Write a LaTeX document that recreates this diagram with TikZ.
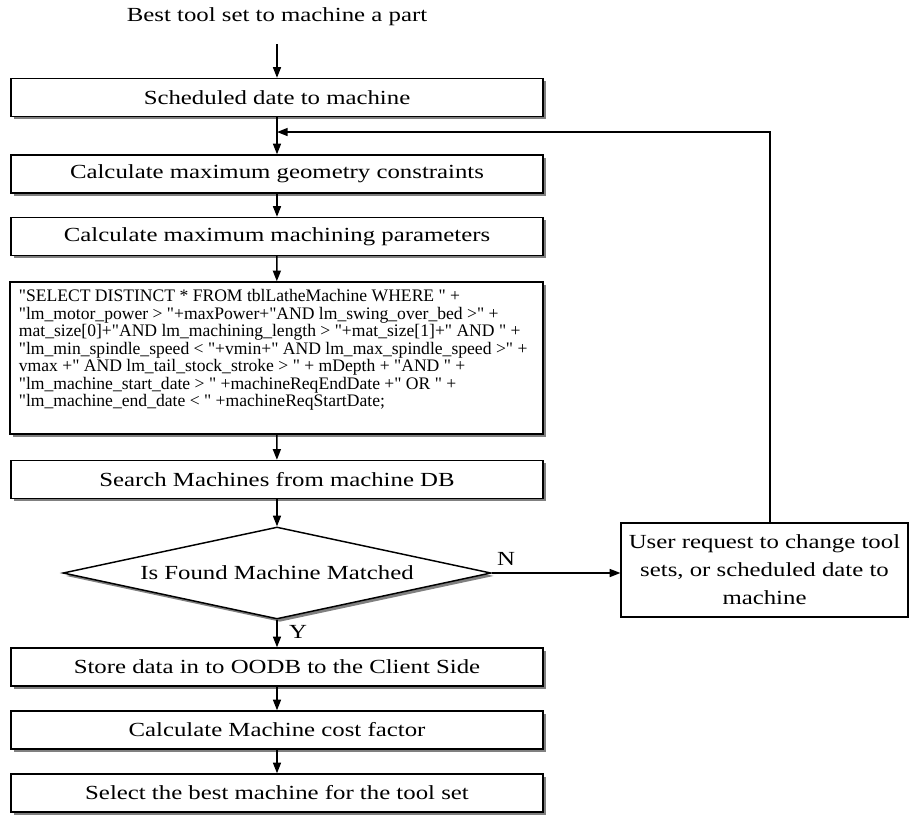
\documentclass[tikz,border=0pt]{standalone}
\usepackage{fontspec}
\setmainfont{Liberation Serif}
\newfontfamily\labfont[FakeStretch=1.24]{Liberation Serif}
\newfontfamily\sqlfont[Ligatures=TeXOff]{Liberation Serif}
\usetikzlibrary{arrows.meta,shapes.geometric,shadows}
\newcommand\qq{\char34\relax}
\begin{document}
\begin{tikzpicture}[x=0.75pt,y=-0.75pt,
  lab/.style={font=\labfont\fontsize{15}{18}\selectfont},
  shad/.style={drop shadow={shadow xshift=2.2pt, shadow yshift=-2.2pt, fill=black!50, opacity=1}},
  box/.style={draw, line width=1.1pt, fill=white, minimum width=399pt, minimum height=28.5pt, inner sep=0pt, lab, shad},
  arr/.style={line width=1.1pt, -{Triangle[length=8pt,width=6pt]}},
  ]
\useasboundingbox (0,0) rectangle (910,815);
\node[lab] (title) at (277,17) {Best tool set to machine a part};
\node[box] (b1) at (277,97.5) {Scheduled date to machine};
\node[box] (b2) at (277,174) {Calculate maximum geometry constraints};
\node[box] (b3) at (277,236.5) {Calculate maximum machining parameters};
\node[box, minimum width=399.75pt, minimum height=114pt] (sql) at (276.5,358) {};
\node[anchor=north west, inner sep=0pt, align=left, font=\sqlfont\fontsize{13.2}{13.1}\selectfont] (sqltext) at ([xshift=7pt,yshift=-6pt]sql.north west) {\qq{}SELECT DISTINCT * FROM tblLatheMachine WHERE \qq{} +\\
\qq{}lm\_motor\_power > \qq{}+maxPower+\qq{}AND lm\_swing\_over\_bed >\qq{} +\\
mat\_size[0]+\qq{}AND lm\_machining\_length > \qq{}+mat\_size[1]+\qq{} AND \qq{} +\\
\qq{}lm\_min\_spindle\_speed < \qq{}+vmin+\qq{} AND lm\_max\_spindle\_speed >\qq{} +\\
vmax +\qq{} AND lm\_tail\_stock\_stroke > \qq{} + mDepth + \qq{}AND \qq{} +\\
\qq{}lm\_machine\_start\_date > \qq{} +machineReqEndDate +\qq{} OR \qq{} +\\
\qq{}lm\_machine\_end\_date < \qq{} +machineReqStartDate;};
\node[box] (search) at (277,479.5) {Search Machines from machine DB};
\node[diamond, draw, line width=1.1pt, fill=white, minimum width=321pt, minimum height=69pt, inner sep=0pt, aspect=4.65, lab, shad] (dia) at (277,573) {Is Found Machine Matched};
\node[box] (store) at (277,667) {Store data in to OODB to the Client Side};
\node[box] (cost) at (277,730) {Calculate Machine cost factor};
\node[box] (sel) at (277,793) {Select the best machine for the tool set};
\node[draw, line width=0.9pt, fill=white, minimum width=215.25pt, minimum height=70.5pt, inner sep=0pt, align=center, font=\labfont\fontsize{15}{21}\selectfont] (user) at (764.5,570) {User request to change tool\\sets, or scheduled date to\\machine};
\node[lab] (nlab) at (506,559) {N};
\node[lab] (ylab) at (298,632) {Y};
\coordinate (fbc) at (770,132);
\draw[arr, shorten <=10pt] (title.south) -- (b1.north);
\draw[arr] (b1) -- (b2);
\draw[arr] (b2) -- (b3);
\draw[arr] (b3) -- (sql);
\draw[arr] (sql) -- (search);
\draw[arr] (search) -- (dia.north);
\draw[arr] (dia.south) -- (store.north);
\draw[arr] (store) -- (cost);
\draw[arr] (cost) -- (sel);
\draw[arr] (dia.east) -- (dia.east -| user.west);
\draw[arr] (user.north -| fbc) -- (fbc) -- (fbc -| b1.south);
\end{tikzpicture}
\end{document}
